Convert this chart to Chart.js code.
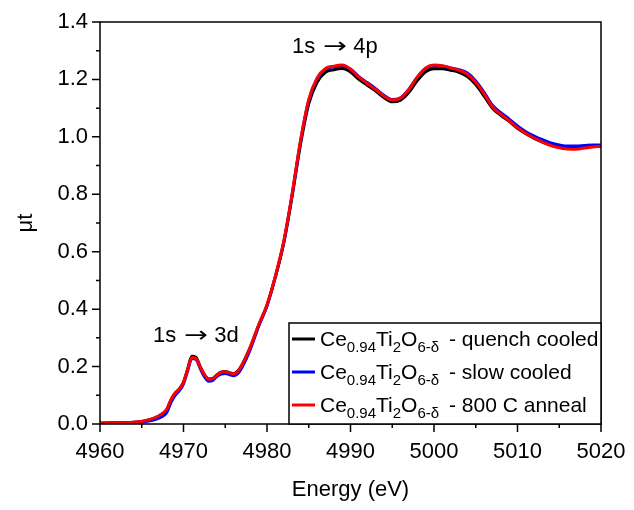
<!DOCTYPE html>
<html>
<head>
<meta charset="utf-8">
<script src="https://cdn.jsdelivr.net/npm/chart.js@4.4.1/dist/chart.umd.min.js"></script>
<style>
  html, body { margin: 0; padding: 0; background: #fff; }
  #wrap { width: 634px; height: 510px; }
</style>
</head>
<body>
<div id="wrap"><canvas id="xanes" width="634" height="510"></canvas></div>
<script>
// energies (eV), finer steps around the pre-edge
const energy = [4960, 4962, 4964, 4965, 4966,
  4967, 4967.5, 4968, 4968.5, 4969, 4969.5, 4970, 4970.5, 4971, 4971.5, 4972, 4972.5,
  4973, 4973.5, 4974, 4974.5, 4975, 4975.5, 4976, 4976.5, 4977,
  4978, 4979, 4980, 4981, 4982, 4983, 4984, 4985, 4986, 4987, 4988, 4989, 4990,
  4991, 4992, 4993, 4994, 4995, 4996, 4997, 4998, 4999, 5000, 5001, 5002, 5003,
  5004, 5005, 5006, 5007, 5008, 5009, 5010, 5011, 5012, 5013, 5014, 5015, 5016,
  5017, 5018, 5019, 5020];

const quenchCooled = [0.003, 0.004, 0.006, 0.009, 0.015,
  0.027, 0.036, 0.050, 0.084, 0.107, 0.122, 0.146, 0.192, 0.236, 0.232, 0.200, 0.172,
  0.157, 0.159, 0.171, 0.181, 0.183, 0.179, 0.176, 0.184, 0.206,
  0.268, 0.344, 0.413, 0.512, 0.630, 0.792, 0.972, 1.115, 1.190, 1.225, 1.234, 1.238, 1.226,
  1.200, 1.180, 1.160, 1.137, 1.122, 1.128, 1.155, 1.196, 1.227, 1.237, 1.237, 1.232, 1.225,
  1.210, 1.182, 1.142, 1.100, 1.075, 1.054, 1.030, 1.011, 0.995, 0.982, 0.971, 0.964, 0.961,
  0.961, 0.964, 0.967, 0.968];

const slowCooled = [0.003, 0.004, 0.005, 0.007, 0.011,
  0.020, 0.027, 0.040, 0.075, 0.100, 0.116, 0.140, 0.185, 0.228, 0.225, 0.193, 0.165,
  0.149, 0.152, 0.165, 0.174, 0.176, 0.172, 0.168, 0.175, 0.197,
  0.260, 0.340, 0.412, 0.512, 0.632, 0.797, 0.982, 1.127, 1.202, 1.236, 1.244, 1.247, 1.236,
  1.210, 1.189, 1.168, 1.145, 1.130, 1.136, 1.166, 1.208, 1.238, 1.247, 1.246, 1.240, 1.234,
  1.222, 1.195, 1.155, 1.110, 1.084, 1.062, 1.038, 1.018, 1.003, 0.990, 0.979, 0.972, 0.968,
  0.968, 0.970, 0.972, 0.972];

const anneal800 = [0.003, 0.004, 0.006, 0.009, 0.016,
  0.028, 0.037, 0.052, 0.085, 0.108, 0.122, 0.145, 0.190, 0.232, 0.228, 0.198, 0.172,
  0.156, 0.158, 0.170, 0.180, 0.182, 0.178, 0.175, 0.183, 0.205,
  0.268, 0.345, 0.415, 0.515, 0.635, 0.800, 0.985, 1.130, 1.205, 1.238, 1.246, 1.250, 1.236,
  1.208, 1.186, 1.165, 1.142, 1.128, 1.135, 1.165, 1.208, 1.240, 1.250, 1.248, 1.240, 1.232,
  1.218, 1.190, 1.150, 1.105, 1.078, 1.056, 1.032, 1.012, 0.996, 0.982, 0.970, 0.962, 0.958,
  0.957, 0.961, 0.965, 0.967];

const seriesNames = ['- quench cooled', '- slow cooled', '- 800 C anneal'];
const seriesColors = ['#000000', '#0000ff', '#ff0000'];

const xTicks = [4960, 4970, 4980, 4990, 5000, 5010, 5020];
const xMinorTicks = [4965, 4975, 4985, 4995, 5005, 5015];
const yTicks = [0, 0.2, 0.4, 0.6, 0.8, 1.0, 1.2, 1.4];
const yMinorTicks = [0.1, 0.3, 0.5, 0.7, 0.9, 1.1, 1.3];

const FONT = "'Liberation Sans', Arial, 'DejaVu Sans', sans-serif";

function pts(vals) {
  return energy.map((e, i) => ({ x: e, y: vals[i] }));
}

// "1s -> 4p" style label, arrow from DejaVu stretched a bit
function transition(ctx, from, to, x, y) {
  ctx.font = '22px ' + FONT;
  ctx.fillText(from, x, y);
  x += ctx.measureText(from).width + 8;
  ctx.save();
  ctx.font = "22px 'DejaVu Sans'";
  ctx.translate(x, y);
  ctx.scale(1.3, 1);
  ctx.fillText('\u2192', 0, 0);
  const w = ctx.measureText('\u2192').width * 1.3;
  ctx.restore();
  ctx.font = '22px ' + FONT;
  ctx.fillText(to, x + w + 6, y);
}

// frame, tick marks, annotations and the legend with subscripts
const decorations = {
  id: 'decorations',
  afterDraw(chart) {
    const ctx = chart.ctx;
    const a = chart.chartArea;
    const xs = chart.scales.x, ys = chart.scales.y;
    ctx.save();
    ctx.strokeStyle = '#000';
    ctx.lineWidth = 1.5;
    ctx.strokeRect(a.left, a.top, a.right - a.left, a.bottom - a.top);

    ctx.beginPath();
    yTicks.forEach(v => { const p = ys.getPixelForValue(v); ctx.moveTo(a.left - 8, p); ctx.lineTo(a.left, p); });
    yMinorTicks.forEach(v => { const p = ys.getPixelForValue(v); ctx.moveTo(a.left - 4, p); ctx.lineTo(a.left, p); });
    xTicks.forEach(v => { const p = xs.getPixelForValue(v); ctx.moveTo(p, a.bottom); ctx.lineTo(p, a.bottom + 8); });
    xMinorTicks.forEach(v => { const p = xs.getPixelForValue(v); ctx.moveTo(p, a.bottom); ctx.lineTo(p, a.bottom + 4); });
    ctx.stroke();

    // transition labels
    ctx.fillStyle = '#000';
    ctx.textAlign = 'left';
    ctx.textBaseline = 'alphabetic';
    transition(ctx, '1s', '4p', xs.getPixelForValue(4983.0), ys.getPixelForValue(1.292));
    transition(ctx, '1s', '3d', xs.getPixelForValue(4966.35), ys.getPixelForValue(0.2856));

    // legend
    const bx = 289, by = 323, bw = a.right - bx, bh = a.bottom - by;
    ctx.fillStyle = '#fff';
    ctx.fillRect(bx, by, bw, bh);
    ctx.strokeRect(bx, by, bw, bh);
    seriesNames.forEach((name, i) => {
      const ly = by + 16 + i * 33;
      ctx.strokeStyle = seriesColors[i];
      ctx.lineWidth = 3;
      ctx.beginPath();
      ctx.moveTo(292, ly);
      ctx.lineTo(315, ly);
      ctx.stroke();
      let x = 320;
      const base = ly + 7;
      const parts = [['Ce', 0], ['0.94', 1], ['Ti', 0], ['2', 1], ['O', 0], ['6-\u03b4', 1]];
      ctx.fillStyle = '#000';
      parts.forEach(([t, sub]) => {
        ctx.font = (sub ? '15px ' : '21px ') + FONT;
        ctx.fillText(t, x, sub ? base + 6 : base);
        x += ctx.measureText(t).width;
      });
      ctx.font = '21px ' + FONT;
      ctx.fillText(name, 449, base);
    });
    ctx.restore();
  }
};

new Chart(document.getElementById('xanes'), {
  type: 'line',
  data: {
    datasets: [
      { label: 'quench cooled', data: pts(quenchCooled), borderColor: seriesColors[0], order: 3 },
      { label: 'slow cooled', data: pts(slowCooled), borderColor: seriesColors[1], order: 2 },
      { label: '800 C anneal', data: pts(anneal800), borderColor: seriesColors[2], order: 1 }
    ]
  },
  options: {
    responsive: false,
    animation: false,
    layout: { padding: { top: 22, right: 33, left: 0, bottom: 0 } },
    elements: {
      point: { radius: 0 },
      line: { borderWidth: 3, cubicInterpolationMode: 'monotone', fill: false }
    },
    plugins: { legend: { display: false }, tooltip: { enabled: false } },
    scales: {
      x: {
        type: 'linear',
        min: 4960, max: 5020,
        afterBuildTicks: s => { s.ticks = xTicks.map(v => ({ value: v })); },
        afterFit: s => { s.height = 86; s.paddingLeft = 0; s.paddingRight = 0; },
        grid: { display: false, drawTicks: false },
        border: { display: false },
        ticks: { color: '#000', padding: 15, maxRotation: 0, callback: v => String(v), font: { family: FONT, size: 22 } },
        title: { display: true, text: 'Energy (eV)', color: '#000', padding: { top: 0, bottom: 7 }, font: { family: FONT, size: 22 } }
      },
      y: {
        min: 0, max: 1.4,
        afterBuildTicks: s => { s.ticks = yTicks.map(v => ({ value: v })); },
        afterFit: s => { s.width = 100; s.paddingTop = 0; s.paddingBottom = 0; },
        grid: { display: false, drawTicks: false },
        border: { display: false },
        ticks: { color: '#000', padding: 12, callback: v => v.toFixed(1), font: { family: FONT, size: 22 } },
        title: { display: true, text: '\u03bct', color: '#000', padding: { top: 13, bottom: 0 }, font: { family: FONT, size: 22 } }
      }
    }
  },
  plugins: [decorations]
});
</script>
</body>
</html>
